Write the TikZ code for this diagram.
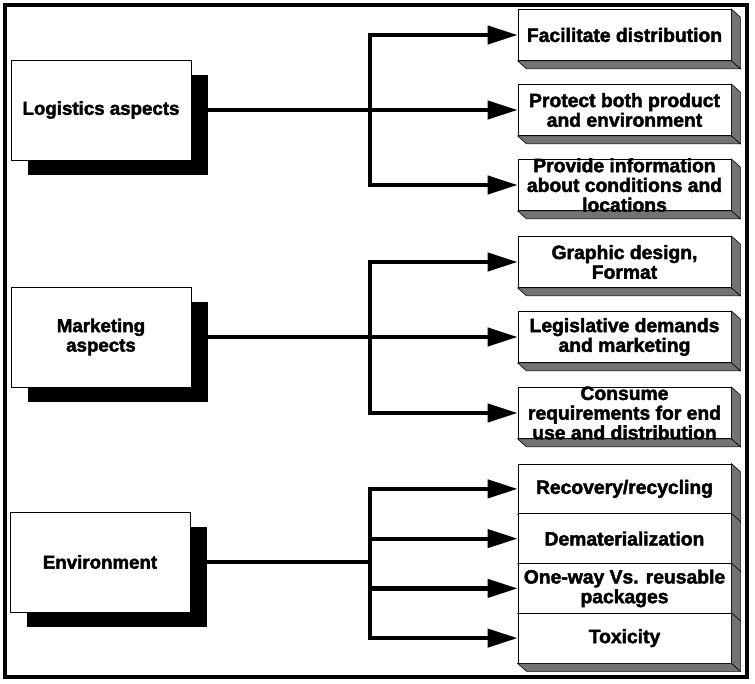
\documentclass[tikz,border=0pt]{standalone}
\usepackage{fontspec}
\setmainfont{Liberation Sans}[BoldFeatures={FakeBold=2.2}]
\usetikzlibrary{arrows.meta,shadows}

% 3-D side faces (right and bottom) of a right-hand box
\newcommand\extrude[1]{%
  \draw[side] (#1.north east) -- ++(9,8) -- ([shift={(9,8)}]#1.south east) -- (#1.south east) -- cycle;
  \draw[side] (#1.south west) -- ++(9,8) -- ([shift={(9,8)}]#1.south east) -- (#1.south east) -- cycle;
}

\begin{document}
\begin{tikzpicture}[x=1bp,y=-1bp,
  frame/.style={line width=3.5bp},
  lbox/.style={draw=black, line width=0.8bp, fill=white, minimum width=180bp,
    minimum height=100bp, inner sep=0pt,
    drop shadow={fill=black, opacity=1, shadow xshift=17bp, shadow yshift=-15bp}},
  rbox/.style={draw=black, line width=0.8bp, fill=white, minimum width=213bp,
    minimum height=51bp, inner sep=0pt},
  side/.style={draw=black, line width=0.6bp, fill=black!55},
  ltext/.style={font=\fontsize{18.7bp}{19.5bp}\selectfont\bfseries, align=center, inner sep=0pt},
  rtext/.style={font=\fontsize{19.3bp}{19.7bp}\selectfont\bfseries, align=center, inner sep=0pt},
  conn/.style={line width=4.2bp},
  arr/.style={line width=4.2bp, -{Triangle[length=30bp,width=18bp]}}
]
\useasboundingbox (0,0) rectangle (755,684);

% outer frame
\draw[frame] (5,5) rectangle (747,677);

% left-hand category boxes
\node[lbox] (log) at (101,110) {};
\node[ltext] (logt) at (log) {Logistics aspects};
\node[lbox] (mkt) at (101,337) {};
\node[ltext] (mktt) at (mkt) {Marketing\\aspects};
\node[lbox] (env) at (100,562) {};
\node[ltext] (envt) at (env) {Environment};

% logistics targets
\node[rbox] (f1) at (624.5,35) {}; \extrude{f1}
\node[rtext] (f1t) at (f1) {Facilitate distribution};
\node[rbox] (f2) at (624.5,110) {}; \extrude{f2}
\node[rtext] (f2t) at (f2) {Protect both product\\and environment};
\node[rbox] (f3) at (624.5,185) {}; \extrude{f3}
\node[rtext] (f3t) at (f3) {Provide information\\about conditions and\\locations};

% marketing targets
\node[rbox] (m1) at (624.5,262) {}; \extrude{m1}
\node[rtext] (m1t) at (m1) {Graphic design,\\Format};
\node[rbox] (m2) at (624.5,337) {}; \extrude{m2}
\node[rtext] (m2t) at (m2) {Legislative demands\\and marketing};
\node[rbox] (m3) at (624.5,413) {}; \extrude{m3}
\node[rtext] (m3t) at (m3) {Consume\\requirements for end\\use and distribution};

% environment targets, stacked
\begin{scope}[rbox/.append style={minimum height=49.75bp}]
\node[rbox] (e1) at (624.5,488.9) {}; \extrude{e1}
\node[rbox] (e2) at (624.5,538.6) {}; \extrude{e2}
\node[rbox] (e3) at (624.5,588.4) {}; \extrude{e3}
\node[rbox] (e4) at (624.5,638.1) {}; \extrude{e4}
\end{scope}
\node[rtext] (e1t) at (e1) {Recovery/recycling};
\node[rtext] (e2t) at (e2) {Dematerialization};
\node[rtext] (e3t) at (e3) {One-way Vs. reusable\\packages};
\node[rtext] (e4t) at (e4) {Toxicity};

% branching connectors
\coordinate (jl) at (370,110);
\coordinate (jm) at (370,337);
\coordinate (je) at (370,562);

\draw[conn] (log.east) -- (jl);
\draw[arr] (jl) |- (f1.west);
\draw[arr] (jl) -- (f2.west);
\draw[arr] (jl) |- (f3.west);

\draw[conn] (mkt.east) -- (jm);
\draw[arr] (jm) |- (m1.west);
\draw[arr] (jm) -- (m2.west);
\draw[arr] (jm) |- (m3.west);

\draw[conn] (env.east) -- (je);
\draw[arr] (je) |- (e1.west);
\draw[arr] (je) |- (e2.west);
\draw[arr] (je) |- (e3.west);
\draw[arr] (je) |- (e4.west);
\end{tikzpicture}
\end{document}
